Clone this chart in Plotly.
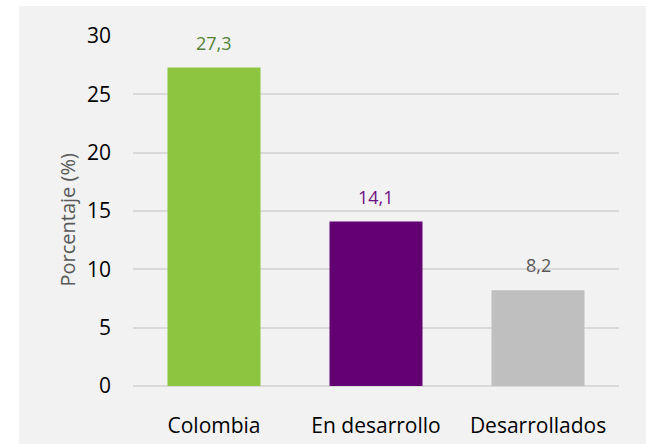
import plotly.graph_objects as go

categories = ["Colombia", "En desarrollo", "Desarrollados"]
values = [27.3, 14.1, 8.2]
value_labels = ["27,3", "14,1", "8,2"]
bar_colors = ["#8dc540", "#630072", "#bfbfbf"]
label_colors = ["#548235", "#6e1180", "#595959"]
y_ticks = [0, 5, 10, 15, 20, 25, 30]

W, H = 646, 444
L, R, T, B = 133, 27, 36, 58
pw, ph = W - L - R, H - T - B

FONT = "Open Sans"

fig = go.Figure()
fig.add_trace(go.Bar(
    x=categories, y=values,
    marker=dict(color=bar_colors, line=dict(width=0)),
    hoverinfo="skip",
))

for c, v, t, col in zip(categories, values, value_labels, label_colors):
    fig.add_annotation(x=c, y=v, xref="x", yref="y", text=t, showarrow=False,
                       yanchor="bottom", yshift=11,
                       font=dict(family=FONT, size=18, color=col))

# gray chart area background
fig.add_shape(type="rect", xref="paper", yref="paper",
              x0=(19 - L) / pw, x1=(W + 40 - L) / pw,
              y0=-(B + 40) / ph, y1=(H - B - 6) / ph,
              fillcolor="#f2f2f2", line=dict(width=0), layer="below")

fig.add_annotation(text="Porcentaje (%)", xref="paper", yref="paper",
                   x=(67 - L) / pw, y=(H - B - 220.5) / ph, showarrow=False,
                   textangle=-90, xanchor="center", yanchor="middle",
                   font=dict(family=FONT, size=20, color="#595959"))

fig.update_layout(
    width=W, height=H,
    margin=dict(l=L, r=R, t=T, b=B, pad=0, autoexpand=False),
    paper_bgcolor="white",
    plot_bgcolor="rgba(0,0,0,0)",
    bargap=0.426,
    showlegend=False,
    font=dict(family=FONT, size=21, color="#000000"),
)
fig.update_yaxes(range=[0, 30], tickvals=y_ticks, ticktext=[str(v) for v in y_ticks],
                 automargin=False,
                 showgrid=True, gridcolor="#d9d9d9", gridwidth=1.5,
                 zeroline=True, zerolinecolor="#d9d9d9", zerolinewidth=2,
                 showline=False, ticks="", ticklabelstandoff=21,
                 tickfont=dict(family=FONT, size=21, color="#000000"))
fig.update_xaxes(showgrid=False, showline=False, ticks="", ticklabelstandoff=25,
                 automargin=False,
                 tickfont=dict(family=FONT, size=21, color="#000000"))

fig.write_html("out.html", config={"displayModeBar": False},
               post_script="document.body.style.margin='0px';document.body.style.overflow='hidden';")
